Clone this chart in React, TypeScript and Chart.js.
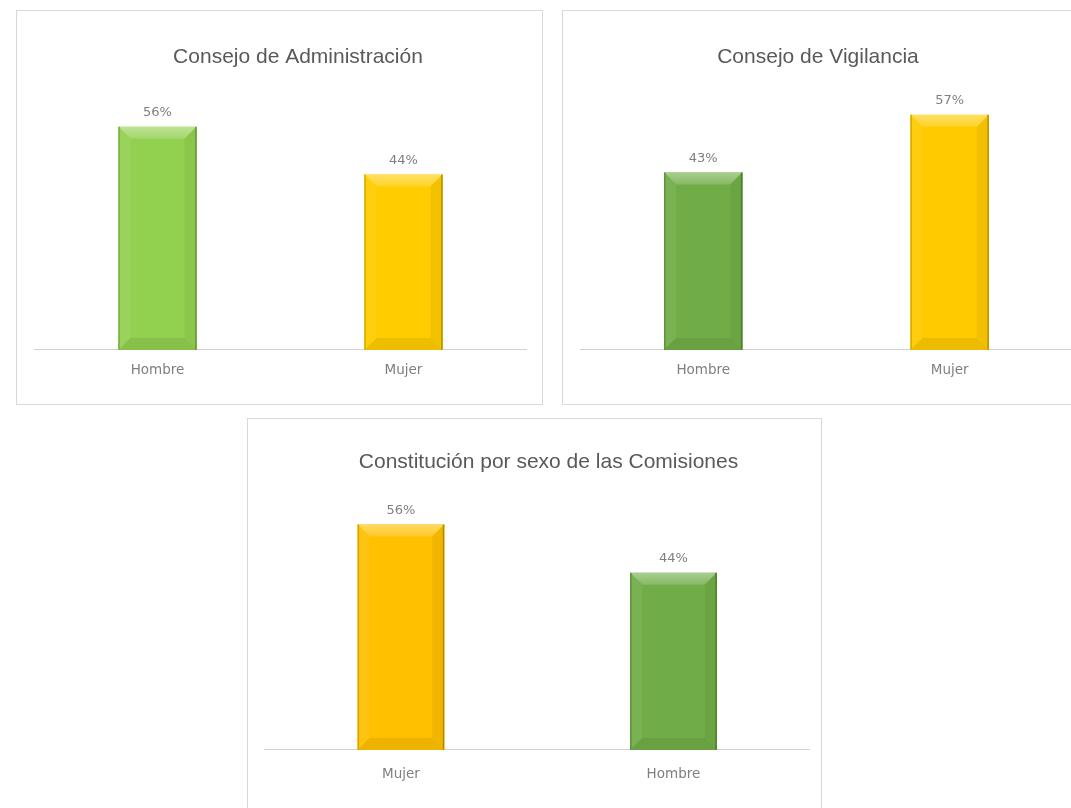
import React, { useEffect, useRef } from 'react';
import { Chart, registerables } from 'chart.js';

Chart.register(...registerables);

// ---------------- data ----------------
const adminTitle = 'Consejo de Administración';
const adminCategories = ['Hombre', 'Mujer'];
const adminValues = [56, 44];
const adminColors = ['#92D050', '#FFCC00'];

const vigilanciaTitle = 'Consejo de Vigilancia';
const vigilanciaCategories = ['Hombre', 'Mujer'];
const vigilanciaValues = [43, 57];
const vigilanciaColors = ['#70AD47', '#FFCA00'];

const comisionesTitle = 'Constitución por sexo de las Comisiones';
const comisionesCategories = ['Mujer', 'Hombre'];
const comisionesValues = [56, 44];
const comisionesColors = ['#FFC000', '#70AD47'];

const yAxisMax = 60;

// ---------------- layout (positions / sizes only) ----------------
const PANELS = [
  {
    title: adminTitle, categories: adminCategories, values: adminValues, colors: adminColors,
    box: { left: 16, top: 10, width: 527, height: 395 },
    pad: { left: 17.5, right: 15.5, top: 99.7, bottom: 12.9 },
    tickPad: 12.5, titleX: 281, titleY: 46,
  },
  {
    title: vigilanciaTitle, categories: vigilanciaCategories, values: vigilanciaValues, colors: vigilanciaColors,
    box: { left: 562, top: 10, width: 530, height: 395 },
    pad: { left: 17, right: 18.1, top: 91.3, bottom: 12.9 },
    tickPad: 12.5, titleX: 255, titleY: 46,
  },
  {
    title: comisionesTitle, categories: comisionesCategories, values: comisionesValues, colors: comisionesColors,
    box: { left: 247, top: 418, width: 575, height: 402 },
    pad: { left: 16.7, right: 11.3, top: 89.3, bottom: 19.9 },
    tickPad: 16.5, titleX: 300.5, titleY: 43.5,
  },
];

const LABEL_FONT = '"DejaVu Sans", "Liberation Sans", sans-serif';
const TITLE_FONT = '"Liberation Sans", Arial, sans-serif';

function mix(hex: string, target: number, amt: number) {
  const n = parseInt(hex.slice(1), 16);
  const r = (n >> 16) & 255, g = (n >> 8) & 255, b = n & 255;
  const f = (c: number) => Math.round(c + (target - c) * amt);
  return `rgb(${f(r)},${f(g)},${f(b)})`;
}

const bevelPlugin = {
  id: 'bevel',
  afterDatasetsDraw(chart: any) {
    const ctx = chart.ctx;
    const meta = chart.getDatasetMeta(0);
    const colors = chart.data.datasets[0].backgroundColor as string[];
    meta.data.forEach((bar: any, i: number) => {
      const p = bar.getProps(['x', 'y', 'base', 'width'], true);
      const l = p.x - p.width / 2, r = p.x + p.width / 2;
      const t = Math.min(p.y, p.base), b = Math.max(p.y, p.base);
      const d = Math.min(12, p.width / 2, (b - t) / 2);
      const c = colors[i];
      const poly = (pts: number[][], fill: any) => {
        ctx.beginPath();
        ctx.moveTo(pts[0][0], pts[0][1]);
        for (let k = 1; k < pts.length; k++) ctx.lineTo(pts[k][0], pts[k][1]);
        ctx.closePath();
        ctx.fillStyle = fill;
        ctx.fill();
      };
      ctx.save();
      const topGrad = ctx.createLinearGradient(0, t, 0, t + d);
      topGrad.addColorStop(0, mix(c, 255, 0.4));
      topGrad.addColorStop(1, mix(c, 255, 0.15));
      poly([[l, t], [r, t], [r - d, t + d], [l + d, t + d]], topGrad);
      poly([[l, t], [l + d, t + d], [l + d, b - d], [l, b]], mix(c, 255, 0.06));
      poly([[r, t], [r, b], [r - d, b - d], [r - d, t + d]], mix(c, 0, 0.05));
      poly([[l, b], [l + d, b - d], [r - d, b - d], [r, b]], mix(c, 0, 0.07));
      ctx.lineWidth = 1.5;
      ctx.strokeStyle = mix(c, 0, 0.28);
      ctx.beginPath(); ctx.moveTo(r - 0.75, t); ctx.lineTo(r - 0.75, b); ctx.stroke();
      ctx.strokeStyle = mix(c, 0, 0.15);
      ctx.beginPath(); ctx.moveTo(l + 0.75, t); ctx.lineTo(l + 0.75, b); ctx.stroke();
      ctx.restore();
    });
  },
};

const valueLabelPlugin = {
  id: 'valueLabels',
  afterDatasetsDraw(chart: any) {
    const ctx = chart.ctx;
    const ds = chart.data.datasets[0];
    chart.getDatasetMeta(0).data.forEach((bar: any, i: number) => {
      const { x, y } = bar.getProps(['x', 'y'], true);
      ctx.save();
      ctx.font = `13px ${LABEL_FONT}`;
      ctx.fillStyle = '#7f7f7f';
      ctx.textAlign = 'center';
      ctx.textBaseline = 'middle';
      ctx.fillText(`${ds.data[i]}%`, x, y - 14);
      ctx.restore();
    });
  },
};

function BarPanel({ cfg }: { cfg: any }) {
  const ref = useRef<HTMLCanvasElement>(null);
  const cw = cfg.box.width - 2;
  const ch = cfg.box.height - 2;
  useEffect(() => {
    const titlePlugin = {
      id: 'panelTitle',
      afterDraw(chart: any) {
        const ctx = chart.ctx;
        ctx.save();
        ctx.font = `21px ${TITLE_FONT}`;
        ctx.fillStyle = '#595959';
        ctx.textAlign = 'center';
        ctx.textBaseline = 'middle';
        ctx.fillText(cfg.title, cfg.titleX, cfg.titleY);
        ctx.restore();
      },
    };
    const chart = new Chart(ref.current as HTMLCanvasElement, {
      type: 'bar',
      data: {
        labels: cfg.categories,
        datasets: [
          {
            data: cfg.values,
            backgroundColor: cfg.colors,
            borderWidth: 0,
            categoryPercentage: 1,
            barPercentage: 0.318,
          },
        ],
      },
      options: {
        animation: false,
        responsive: false,
        maintainAspectRatio: false,
        layout: { padding: cfg.pad },
        plugins: {
          legend: { display: false },
          tooltip: { enabled: false },
          title: { display: false },
        },
        scales: {
          x: {
            grid: { display: false, drawTicks: false },
            border: { display: true, color: '#d0d0d0', width: 1 },
            ticks: {
              color: '#7f7f7f',
              padding: cfg.tickPad,
              font: { family: LABEL_FONT, size: 13.5 },
            },
          },
          y: { display: false, min: 0, max: yAxisMax },
        },
      },
      plugins: [bevelPlugin, valueLabelPlugin, titlePlugin],
    } as any);
    return () => chart.destroy();
  }, []);
  return (
    <div
      style={{
        position: 'absolute',
        left: cfg.box.left,
        top: cfg.box.top,
        width: cfg.box.width,
        height: cfg.box.height,
        border: '1px solid #d9d9d9',
        boxSizing: 'border-box',
        background: '#fff',
      }}
    >
      <canvas ref={ref} width={cw} height={ch} style={{ display: 'block', width: cw, height: ch }} />
    </div>
  );
}

export default function App() {
  return (
    <div
      style={{
        position: 'absolute',
        left: 0,
        top: 0,
        width: 1071,
        height: 808,
        overflow: 'hidden',
        background: '#fff',
      }}
    >
      {PANELS.map((p, i) => (
        <BarPanel key={i} cfg={p} />
      ))}
    </div>
  );
}
